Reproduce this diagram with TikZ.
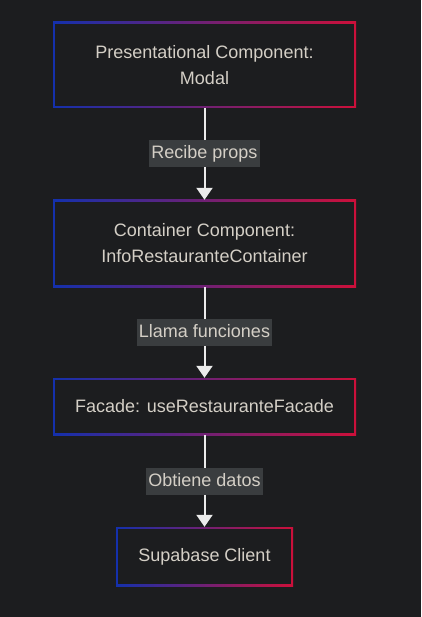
\documentclass[tikz,border=0pt]{standalone}
\usepackage{fontspec}
\setmainfont{Liberation Sans}
\usepackage{tikz}
\usetikzlibrary{arrows.meta}

\definecolor{bgdark}{RGB}{28,29,31}
\definecolor{txtlight}{RGB}{212,207,198}
\definecolor{lblgray}{RGB}{58,61,63}
\definecolor{edgewhite}{RGB}{235,235,235}
\definecolor{frameblue}{RGB}{20,48,172}
\definecolor{framered}{RGB}{204,16,58}

\begin{document}
\begin{tikzpicture}[x=1pt, y=-1pt,
    % box with a blue-to-red frame
    compbox/.style={inner sep=0pt, align=center, text=txtlight,
        font=\fontsize{18}{26}\selectfont,
        path picture={
            \shade[left color=frameblue, right color=framered]
                (path picture bounding box.south west) rectangle (path picture bounding box.north east);
            \fill[bgdark] ([shift={(2.2pt,2.2pt)}]path picture bounding box.south west)
                rectangle ([shift={(-2.2pt,-2.2pt)}]path picture bounding box.north east);
        }},
    edgelbl/.style={fill=lblgray, text=txtlight, inner xsep=2pt, inner ysep=4.5pt,
        text height=14pt, text depth=4pt, font=\fontsize{18}{21}\selectfont},
    flow/.style={draw=edgewhite, line width=2pt,
        -{Triangle[width=16pt, length=12pt]}}]
    % background and page size
    \fill[bgdark] (0,0) rectangle (421,617);
    \useasboundingbox (0,0) rectangle (421,617);
    % components
    \node[compbox, minimum width=303pt, minimum height=86pt] (modal) at (204.5,65)
        {Presentational Component:\\Modal};
    \node[compbox, minimum width=303pt, minimum height=87pt] (container) at (204.5,243.5)
        {Container Component:\\InfoRestauranteContainer};
    \node[compbox, minimum width=303pt, minimum height=57pt] (facade) at (204.5,406.5)
        {Facade: useRestauranteFacade};
    \node[compbox, minimum width=177pt, minimum height=59pt] (client) at (204.5,556.5)
        {Supabase Client};
    % connectors
    \draw[flow] (modal) -- node[edgelbl] {Recibe props} (container);
    \draw[flow] (container) -- node[edgelbl] {Llama funciones} (facade);
    \draw[flow] (facade) -- node[edgelbl] {Obtiene datos} (client);
\end{tikzpicture}
\end{document}
